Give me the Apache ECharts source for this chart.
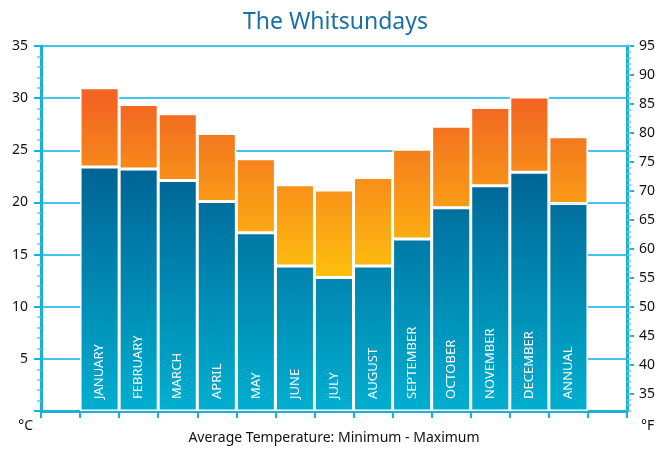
<!DOCTYPE html>
<html>
<head>
<meta charset="utf-8">
<title>The Whitsundays</title>
<script src="https://cdn.jsdelivr.net/npm/echarts@6/dist/echarts.min.js"></script>
<style>
  html, body { margin: 0; padding: 0; background: #fff; }
  #chart { width: 671px; height: 450px; }
</style>
</head>
<body>
<div id="chart"></div>
<script>
// empty slot at each end, like the original
const months = ['', 'JANUARY', 'FEBRUARY', 'MARCH', 'APRIL', 'MAY', 'JUNE', 'JULY',
  'AUGUST', 'SEPTEMBER', 'OCTOBER', 'NOVEMBER', 'DECEMBER', 'ANNUAL', '']
const minTemps = [null, 23.4, 23.2, 22.1, 20.1, 17.1, 13.9, 12.8, 13.9, 16.5, 19.5, 21.6, 22.9, 19.9, null]
const maxTemps = [null, 31.0, 29.4, 28.5, 26.6, 24.2, 21.7, 21.2, 22.4, 25.1, 27.3, 29.1, 30.1, 26.3, null]
const celsiusTicks = [5, 10, 15, 20, 25, 30, 35]
const fahrenheitTicks = [35, 40, 45, 50, 55, 60, 65, 70, 75, 80, 85, 90, 95]

const axisColor = '#1cb0d8'
const font = 'Noto Sans'

// orange part = max - min, stacked on the min bar
const rangeTemps = maxTemps.map((v, i) => (v == null ? '-' : +(v - minTemps[i]).toFixed(1)))
const minData = minTemps.map(v => (v == null ? '-' : v))

const chart = echarts.init(document.getElementById('chart'))

const option = {
  animation: false,
  title: {
    text: 'The Whitsundays',
    left: 'center',
    top: 6,
    textStyle: { fontFamily: font, fontSize: 23, fontWeight: 'normal', color: '#1a70a2' }
  },
  grid: { left: 41, right: 44, top: 46, bottom: 39, containLabel: false, outerBoundsMode: 'none' },
  xAxis: {
    type: 'category',
    data: months,
    name: 'Average Temperature: Minimum - Maximum',
    nameLocation: 'middle',
    nameGap: 20,
    nameTextStyle: { fontFamily: font, fontSize: 14, color: '#111' },
    axisLine: { lineStyle: { color: axisColor, width: 3 } },
    axisTick: { show: true, interval: 0, length: 7, lineStyle: { color: axisColor, width: 2 } },
    axisLabel: { show: false }
  },
  yAxis: [
    {
      type: 'value',
      min: 0,
      max: 35,
      interval: 5,
      name: '°C',
      nameLocation: 'start',
      nameGap: 8,
      nameTextStyle: { fontFamily: font, fontSize: 14, color: '#111', align: 'right', padding: [0, 8, 0, 0] },
      axisLine: { show: true, lineStyle: { color: axisColor, width: 3 } },
      axisTick: { show: true, length: 7, lineStyle: { color: axisColor, width: 2 } },
      minorTick: { show: true, splitNumber: 5, length: 4, lineStyle: { color: '#5ccbe8', width: 1.5 } },
      axisLabel: {
        margin: 13,
        fontFamily: font,
        fontSize: 14,
        color: '#111',
        formatter: v => (celsiusTicks.includes(v) ? v : '')
      },
      splitLine: { show: true, lineStyle: { color: '#45c5ec', width: 2 } }
    },
    {
      type: 'value',
      position: 'right',
      min: 32,
      max: 95,
      name: '°F',
      nameLocation: 'start',
      nameGap: 8,
      nameTextStyle: { fontFamily: font, fontSize: 14, color: '#111', align: 'left', padding: [0, 0, 0, 14] },
      axisLine: { show: true, lineStyle: { color: axisColor, width: 3 } },
      axisTick: { show: true, length: 7, customValues: fahrenheitTicks, lineStyle: { color: axisColor, width: 2 } },
      axisLabel: { margin: 12, fontFamily: font, fontSize: 14, color: '#111', customValues: fahrenheitTicks },
      splitLine: { show: false }
    },
    {
      // 1 degree F minor ticks on the right
      type: 'value',
      position: 'right',
      min: 32,
      max: 95,
      interval: 1,
      axisLine: { show: false },
      axisTick: { show: true, length: 4, lineStyle: { color: '#5ccbe8', width: 1.5 } },
      axisLabel: { show: false },
      splitLine: { show: false }
    }
  ],
  series: [
    {
      name: 'Minimum',
      type: 'bar',
      stack: 'temp',
      barWidth: '100%',
      data: minData,
      itemStyle: {
        borderColor: '#fff',
        borderWidth: 1.5,
        color: new echarts.graphic.LinearGradient(0, 170, 0, 410, [
          { offset: 0, color: '#006495' },
          { offset: 1, color: '#00afd0' }
        ], true)
      },
      label: {
        show: true,
        position: 'insideBottom',
        distance: 12,
        rotate: 90,
        align: 'left',
        verticalAlign: 'middle',
        fontFamily: font,
        fontSize: 13,
        color: '#fff',
        formatter: p => p.name
      }
    },
    {
      name: 'Maximum',
      type: 'bar',
      stack: 'temp',
      barWidth: '100%',
      data: rangeTemps,
      itemStyle: {
        borderColor: '#fff',
        borderWidth: 1.5,
        color: new echarts.graphic.LinearGradient(0, 100, 0, 285, [
          { offset: 0, color: '#f26522' },
          { offset: 1, color: '#ffc40d' }
        ], true)
      }
    }
  ]
}

chart.setOption(option)
</script>
</body>
</html>
